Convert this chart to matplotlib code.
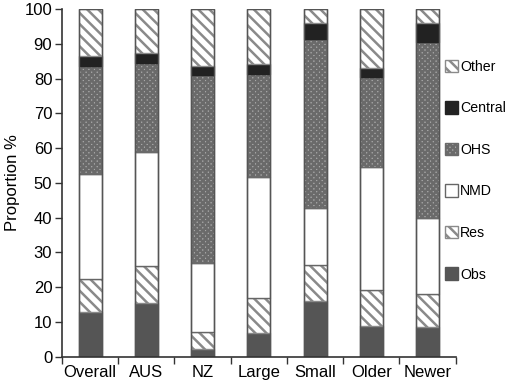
import matplotlib
matplotlib.use("Agg")
import matplotlib.pyplot as plt
import numpy as np

plt.rcParams['font.family'] = ['Liberation Sans', 'DejaVu Sans']
plt.rcParams['hatch.linewidth'] = 1.8

categories = ["Overall", "AUS", "NZ", "Large", "Small", "Older", "Newer"]
series_names = ["Obs", "Res", "NMD", "OHS", "Central", "Other"]
# cumulative tops
obs_top = [13.0, 15.5, 2.1, 6.9, 16.1, 8.7, 8.6]
res_top = [22.4, 26.0, 7.0, 17.0, 26.5, 19.3, 18.1]
nmd_top = [52.6, 58.9, 27.0, 51.7, 42.7, 54.6, 39.9]
ohs_top = [83.6, 84.6, 81.1, 81.5, 91.5, 80.6, 90.5]
central_top = [86.6, 87.3, 83.7, 84.3, 95.9, 83.2, 95.9]
other_top = [100, 100, 100, 100, 100, 100, 100]

tops = [obs_top, res_top, nmd_top, ohs_top, central_top, other_top]
styles = {
    "Obs": dict(facecolor="#555555", hatch=None, edgecolor="#555555"),
    "Res": dict(facecolor="white", hatch="\\\\\\", edgecolor="#8a8a8a"),
    "NMD": dict(facecolor="white", hatch=None, edgecolor="#666666"),
    "OHS": dict(facecolor="#a8a8a8", hatch="xxxxxx", edgecolor="#6a6a6a"),
    "Central": dict(facecolor="#222222", hatch=None, edgecolor="#222222"),
    "Other": dict(facecolor="white", hatch="\\\\\\", edgecolor="#8a8a8a"),
}

fig = plt.figure(figsize=(5.06, 3.85), dpi=100)
ax = fig.add_axes([0.1225, 0.0735, 0.778, 0.9025])

x = np.arange(len(categories))
bottom = np.zeros(len(categories))
handles = []
for name, top in zip(series_names, tops):
    top = np.array(top, dtype=float)
    h = top - bottom
    st = styles[name]
    b = ax.bar(x, h, bottom=bottom, width=0.41, facecolor=st["facecolor"],
               edgecolor=st["edgecolor"], hatch=st["hatch"], linewidth=1.0,
               label=name)
    handles.append(b)
    bottom = top

# outlines around whole bars
ax.bar(x, np.array(other_top), width=0.41, facecolor="none", edgecolor="#555555", linewidth=1.0)

ax.set_xlim(-0.5, len(categories) - 0.5)
ax.set_ylim(0, 100)
ax.set_yticks(np.arange(0, 101, 10))
ax.set_xticks(x)
ax.set_xticklabels(categories, fontsize=12)
ax.set_xticks(np.arange(-0.5, len(categories) + 0.5, 1), minor=True)
ax.tick_params(axis="x", which="major", length=0, pad=6)
ax.tick_params(axis="x", which="minor", length=5, width=1, color="#333333")
ax.tick_params(axis="y", length=5, width=1, color="#333333", labelsize=12, pad=2)
ax.set_ylabel("Proportion %", fontsize=12, labelpad=3)
for s in ["top", "right"]:
    ax.spines[s].set_visible(False)
for s in ["left", "bottom"]:
    ax.spines[s].set_color("#333333")
    ax.spines[s].set_linewidth(1.2)

leg = fig.legend(handles[::-1], series_names[::-1], loc="upper left",
                 bbox_to_anchor=(0.879, 0.845), frameon=False, fontsize=10.2,
                 handlelength=0.95, handleheight=1.0, handletextpad=0.12,
                 labelspacing=1.93, borderaxespad=0, borderpad=0)

fig.savefig("out.png", dpi=100)
